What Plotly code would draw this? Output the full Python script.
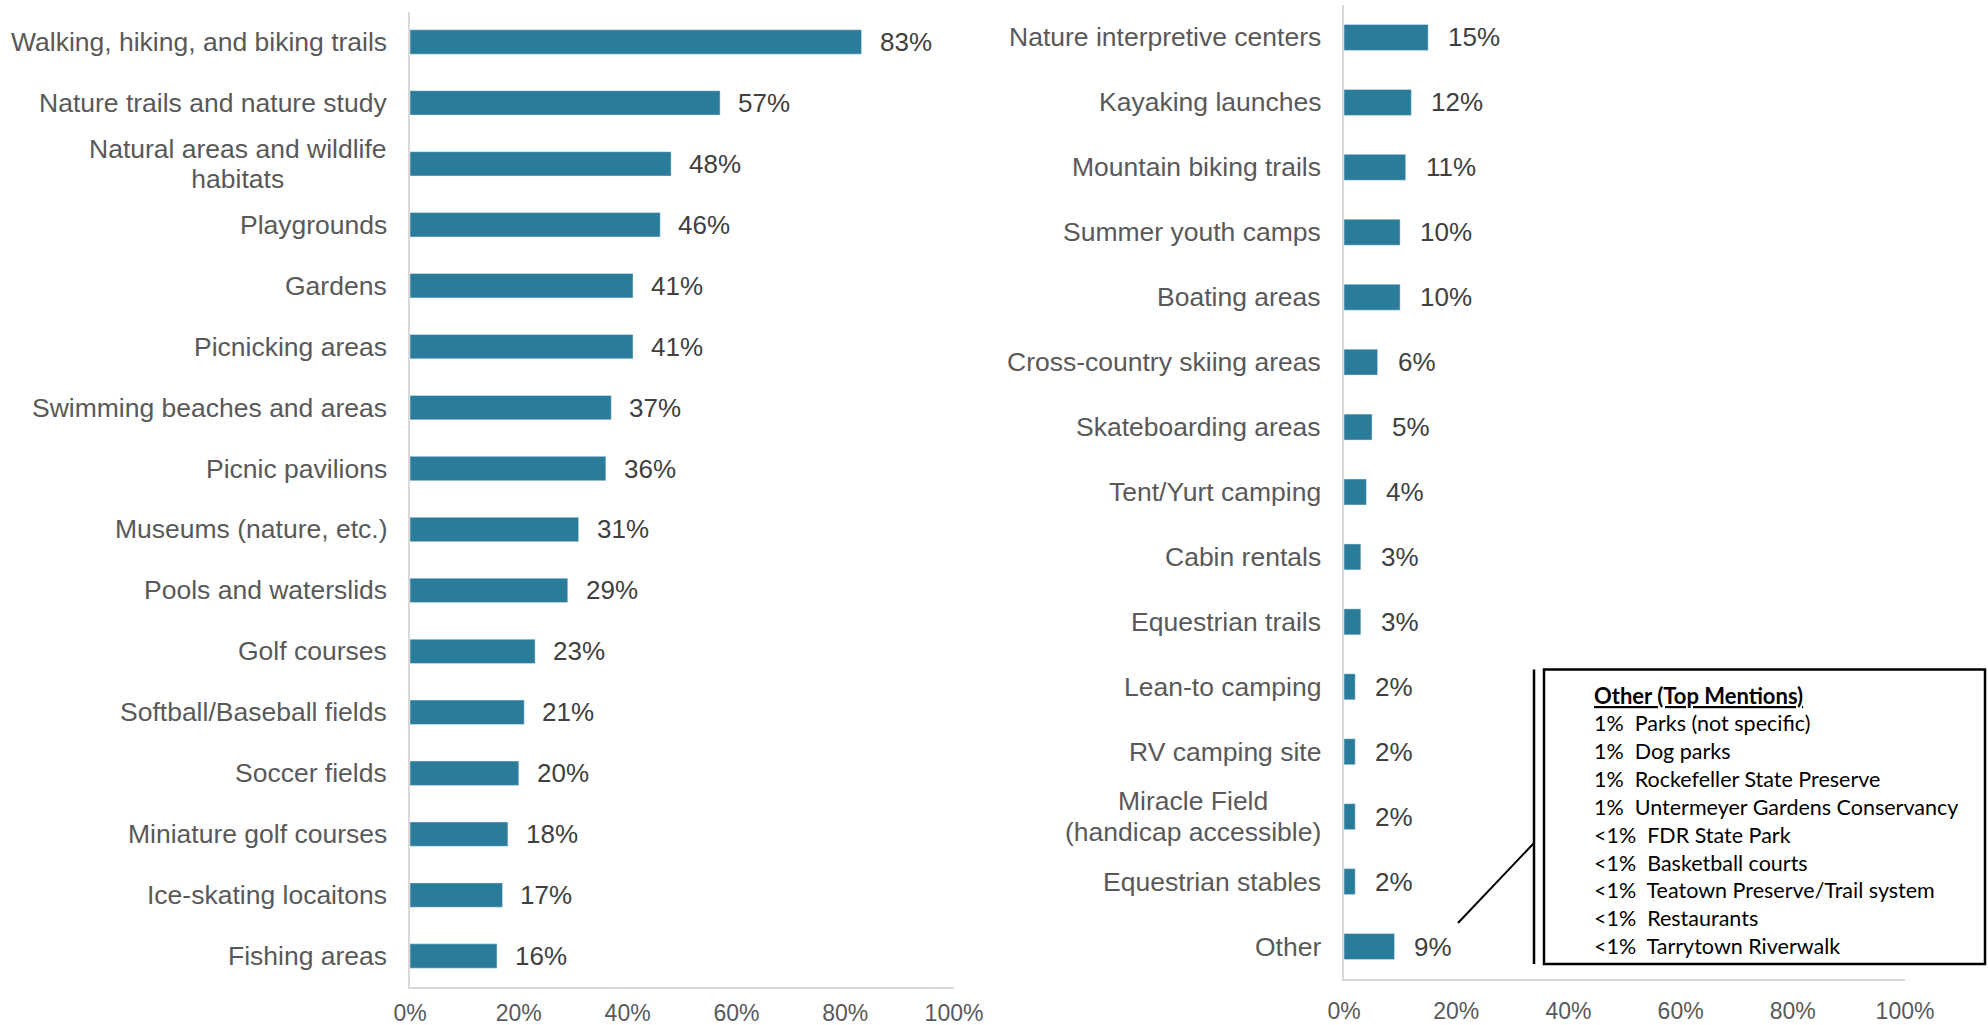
import plotly.graph_objects as go

left_cats = ["Walking, hiking, and biking trails", "Nature trails and nature study",
             "Natural areas and wildlife<br>habitats", "Playgrounds", "Gardens",
             "Picnicking areas", "Swimming beaches and areas", "Picnic pavilions",
             "Museums (nature, etc.)", "Pools and waterslids", "Golf courses",
             "Softball/Baseball fields", "Soccer fields", "Miniature golf courses",
             "Ice-skating locaitons", "Fishing areas"]
left_vals = [83, 57, 48, 46, 41, 41, 37, 36, 31, 29, 23, 21, 20, 18, 17, 16]

right_cats = ["Nature interpretive centers", "Kayaking launches", "Mountain biking trails",
              "Summer youth camps", "Boating areas", "Cross-country skiing areas",
              "Skateboarding areas", "Tent/Yurt camping", "Cabin rentals",
              "Equestrian trails", "Lean-to camping", "RV camping site",
              "Miracle Field<br>(handicap accessible)", "Equestrian stables", "Other"]
right_vals = [15, 12, 11, 10, 10, 6, 5, 4, 3, 3, 2, 2, 2, 2, 9]

tick_vals = [0, 20, 40, 60, 80, 100]
tick_text = ["0%", "20%", "40%", "60%", "80%", "100%"]

other_title = "Other (Top Mentions)"
other_lines = ["1%\u00a0 Parks (not specific)", "1%\u00a0 Dog parks",
               "1%\u00a0 Rockefeller State Preserve", "1%\u00a0 Untermeyer Gardens Conservancy",
               "<1%\u00a0 FDR State Park", "<1%\u00a0 Basketball courts",
               "<1%\u00a0 Teatown Preserve/Trail system", "<1%\u00a0 Restaurants",
               "<1%\u00a0 Tarrytown Riverwalk"]

W, H = 1988, 1025
BAR = "#2B7C9A"
LBL = "#595959"
VAL = "#404040"
FONT = "Liberation Sans, Arial, sans-serif"

fig = go.Figure()
fig.add_trace(go.Bar(x=left_vals, y=left_cats, orientation="h", marker_color=BAR,
                     xaxis="x", yaxis="y", showlegend=False, hoverinfo="skip"))
fig.add_trace(go.Bar(x=right_vals, y=right_cats, orientation="h", marker_color=BAR,
                     xaxis="x2", yaxis="y2", showlegend=False, hoverinfo="skip"))

def px_x(p):
    return p / W

def px_y(p):
    return 1 - p / H

axis_common = dict(range=[0, 100], tickvals=tick_vals, ticktext=tick_text, showgrid=False,
                   zeroline=False, showline=True, linecolor="#D9D9D9", linewidth=2,
                   ticks="", tickfont=dict(family=FONT, size=23, color=LBL),
                   fixedrange=True)
yaxis_common = dict(showgrid=False, zeroline=False, showline=True, linecolor="#D9D9D9",
                    linewidth=2, ticks="", showticklabels=False, autorange="reversed",
                    fixedrange=True)

fig.update_layout(
    width=W, height=H, autosize=False, margin=dict(l=0, r=0, t=0, b=0, autoexpand=False),
    paper_bgcolor="white", plot_bgcolor="white", bargap=0.6,
    xaxis=dict(domain=[px_x(410), px_x(954)], anchor="y", ticklabelstandoff=5, **axis_common),
    yaxis=dict(domain=[px_y(986.5), px_y(11.5)], anchor="x", **yaxis_common),
    xaxis2=dict(domain=[px_x(1344), px_x(1905)], anchor="y2", ticklabelstandoff=10,
                **axis_common),
    yaxis2=dict(domain=[px_y(979), px_y(5)], anchor="x2", **yaxis_common),
)

annotations = []
for cats, vals, xr, yr, shift, lh in [(left_cats, left_vals, "x", "y", 16, 23),
                                      (right_cats, right_vals, "x2", "y2", 18, 23.5)]:
    for c, v in zip(cats, vals):
        annotations.append(dict(x=0, y=c, xref=xr, yref=yr,
                                text=f'<span style="font-size:26.5px">{c}</span>',
                                showarrow=False, xanchor="right", align="center", xshift=-21,
                                font=dict(family=FONT, size=lh, color=LBL)))
        annotations.append(dict(x=v, y=c, xref=xr, yref=yr, text=f"{v}%", showarrow=False,
                                xanchor="left", xshift=shift,
                                font=dict(family=FONT, size=26, color=VAL)))

# Callout box text
BOXFONT = "Lato, Noto Sans, sans-serif"
annotations.append(dict(x=px_x(1592), y=px_y(695), xref="paper", yref="paper",
                        text=f"<b><u>{other_title}</u></b>", showarrow=False,
                        xanchor="left", yanchor="middle",
                        font=dict(family=BOXFONT, size=22, color="black")))
for i, line in enumerate(other_lines):
    annotations.append(dict(x=px_x(1592), y=px_y(723 + i * 27.9), xref="paper", yref="paper",
                            text=line, showarrow=False, xanchor="left", yanchor="middle",
                            font=dict(family=BOXFONT, size=21.5, color="black")))
fig.update_layout(annotations=annotations)

shapes = [
    dict(type="rect", xref="paper", yref="paper", x0=px_x(1544), x1=px_x(1985),
         y0=px_y(964), y1=px_y(669.5), line=dict(color="black", width=2.5)),
    dict(type="line", xref="paper", yref="paper", x0=px_x(1534), x1=px_x(1534),
         y0=px_y(964), y1=px_y(669.5), line=dict(color="black", width=2.5)),
    dict(type="line", xref="paper", yref="paper", x0=px_x(1458), x1=px_x(1534),
         y0=px_y(923), y1=px_y(843), line=dict(color="black", width=2)),
]
fig.update_layout(shapes=shapes)

fig.write_html("out.html",
               config=dict(responsive=False, displayModeBar=False),
               post_script="document.body.style.margin='0';document.body.style.overflow='hidden';")
